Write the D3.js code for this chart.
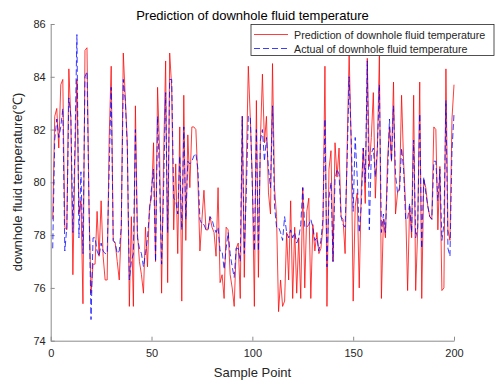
<!DOCTYPE html>
<html><head><meta charset="utf-8">
<script src="https://cdn.jsdelivr.net/npm/d3@7/dist/d3.min.js"></script>
<style>body{margin:0;background:#fff}svg{display:block;font-family:Arial,"Liberation Sans",sans-serif}</style>
</head><body><svg id="c" width="496" height="383"></svg>
<script>
const title = "Prediction of downhole fluid temperature";
const xLabel = "Sample Point";
const yLabel = "downhole fluid temperature(℃)";
const seriesNames = ["Prediction of downhole fluid temperature", "Actual of downhole fluid temperature"];
const xTicks = [0, 50, 100, 150, 200];
const yTicks = [74, 76, 78, 80, 82, 84, 86];
const predicted = [
78.6,82.5,82.8,81.3,83.7,83.9,78.3,78.2,84.3,82.4,
76.5,80.8,83.9,78.8,79.3,75.4,85.0,85.1,79.1,75.8,
76.9,76.9,78.9,77.2,79.3,77.2,76.3,76.3,81.7,84.4,
77.8,77.7,77.0,76.3,78.3,84.9,83.2,81.5,75.3,78.7,
75.3,82.9,78.1,77.0,76.5,75.8,78.3,76.8,79.1,79.4,
81.5,77.0,83.6,81.2,75.8,81.0,84.6,76.2,84.9,83.6,
78.2,80.7,77.3,82.1,75.5,83.3,77.8,81.8,79.8,82.1,
82.1,82.0,80.1,77.4,78.6,79.7,78.2,78.2,78.7,78.3,
78.1,77.2,79.8,76.2,76.5,75.6,78.3,78.2,76.5,76.0,
75.3,77.5,77.7,75.6,82.5,76.4,80.6,84.4,82.4,80.1,
75.3,83.1,76.4,81.6,84.1,81.5,82.5,79.6,78.8,84.5,
79.8,78.7,75.1,76.3,75.3,75.5,78.1,76.3,79.3,75.6,
78.3,75.8,77.9,75.6,79.8,76.0,78.9,79.4,75.6,78.4,
77.4,78.1,77.3,77.5,78.3,84.4,75.3,80.5,81.2,77.0,
81.5,80.2,81.3,78.7,78.6,77.3,81.3,84.9,81.5,75.5,
79.1,79.6,76.0,79.7,81.3,79.2,84.7,80.6,81.7,83.4,
79.4,81.3,84.8,75.6,78.6,77.9,80.8,82.1,80.8,83.8,
78.8,79.6,79.8,83.3,80.8,79.1,75.9,79.1,77.9,83.3,
75.9,78.2,83.8,75.6,80.1,79.8,79.1,78.7,78.6,82.1,
82.0,78.2,80.6,75.9,76.0,84.3,78.2,77.8,82.4,83.7
];
const actual = [
77.5,81.6,82.4,81.7,82.1,82.8,77.4,78.3,83.2,82.5,
78.1,81.3,85.6,77.9,80.4,77.3,84.0,84.2,79.1,74.8,
77.9,77.9,77.4,77.2,77.7,77.4,77.3,77.3,80.5,83.6,
77.8,77.7,77.3,77.4,78.3,83.9,83.1,81.3,76.3,77.0,
77.3,82.0,77.9,77.5,77.3,76.8,77.3,77.9,78.9,79.8,
80.5,77.0,82.5,80.1,76.9,79.8,83.4,78.1,83.9,83.9,
79.4,79.3,78.8,81.0,78.2,82.1,78.6,80.8,80.7,80.8,
81.0,81.1,80.5,78.6,78.4,78.4,78.2,78.2,78.7,78.6,
78.3,78.1,78.3,77.4,77.4,76.7,77.5,78.1,77.3,76.8,
76.4,77.5,77.5,77.0,82.5,77.3,79.6,82.5,82.5,79.8,
77.4,82.0,77.4,81.6,82.0,80.8,81.7,80.5,79.8,82.9,
79.1,78.3,78.3,78.1,77.8,78.7,78.1,77.9,78.2,77.9,
78.1,77.7,77.9,78.4,79.8,78.3,78.3,78.4,78.6,78.3,
77.8,77.9,77.4,77.8,78.6,82.4,76.8,79.4,80.0,77.0,
80.1,80.5,80.3,78.7,78.4,78.3,80.8,84.0,81.7,78.9,
81.7,80.2,78.1,79.1,81.3,80.0,84.6,78.2,81.1,81.3,
80.2,81.3,83.7,78.1,78.8,78.1,80.1,82.4,80.8,82.9,
80.3,79.6,79.7,81.3,80.5,78.6,78.6,79.2,78.1,81.6,
77.9,78.3,82.6,77.5,80.2,79.6,79.1,78.7,78.6,80.8,
80.8,79.3,80.5,77.8,78.4,83.1,77.5,77.2,81.2,82.6
];

const svg = d3.select("#c");
const m = {left: 50.7, right: 454, top: 24, bottom: 340.7};
const x = d3.scaleLinear().domain([0, 200]).range([m.left, m.right]);
const y = d3.scaleLinear().domain([74, 86]).range([m.bottom, m.top]);
const axisCol = "#8c8c8c", textCol = "#262626";

// axes
const gx = svg.append("g").attr("transform", `translate(0,${m.bottom})`)
  .call(d3.axisBottom(x).tickValues(xTicks).tickSizeInner(-4).tickSizeOuter(0).tickPadding(9));
const gy = svg.append("g").attr("transform", `translate(${m.left},0)`)
  .call(d3.axisLeft(y).tickValues(yTicks).tickSizeInner(-4).tickSizeOuter(0).tickPadding(5));
[gx, gy].forEach(g => {
  g.select(".domain").attr("stroke", axisCol).attr("stroke-width", 1);
  g.selectAll(".tick line").attr("stroke", axisCol);
  g.selectAll(".tick text").attr("fill", textCol).style("font-size", "11px").style("font-family", "Arial, 'Liberation Sans', sans-serif");
});
gx.selectAll(".tick text").attr("dy", "0.71em");

const line = d3.line().x((d, i) => x(i + 1)).y(d => y(d));
svg.append("path").datum(predicted).attr("d", line)
  .attr("fill", "none").attr("stroke", "#ff0000").attr("stroke-width", 0.9).attr("stroke-opacity", 0.85);
svg.append("path").datum(actual).attr("d", line)
  .attr("fill", "none").attr("stroke", "#0000ff").attr("stroke-width", 0.9).attr("stroke-dasharray", "6,3").attr("stroke-opacity", 0.85);

// title and labels
svg.append("text").attr("x", 252.5).attr("y", 19.5).attr("text-anchor", "middle")
  .style("font-size", "13px").attr("fill", "#000").text(title);
svg.append("text").attr("x", 252.5).attr("y", 377).attr("text-anchor", "middle")
  .style("font-size", "13px").attr("fill", textCol).text(xLabel);
svg.append("text").attr("transform", `translate(22,182) rotate(-90)`).attr("text-anchor", "middle")
  .style("font-size", "13px").attr("fill", textCol).text(yLabel);

// legend
const lg = svg.append("g");
lg.append("rect").attr("x", 251).attr("y", 24.5).attr("width", 243).attr("height", 31)
  .attr("fill", "#fff").attr("stroke", "#262626").attr("stroke-width", 0.8);
const lcol = ["#ff0000", "#0000ff"], ldash = [null, "6,3"];
seriesNames.forEach((n, i) => {
  const yy = 34.5 + i * 14;
  lg.append("line").attr("x1", 254).attr("x2", 288).attr("y1", yy).attr("y2", yy)
    .attr("stroke", lcol[i]).attr("stroke-width", 0.9).attr("stroke-opacity", 0.85)
    .attr("stroke-dasharray", ldash[i]);
  lg.append("text").attr("x", 294).attr("y", yy + 4).style("font-size", "10.7px")
    .attr("fill", textCol).text(n);
});
</script></body></html>
